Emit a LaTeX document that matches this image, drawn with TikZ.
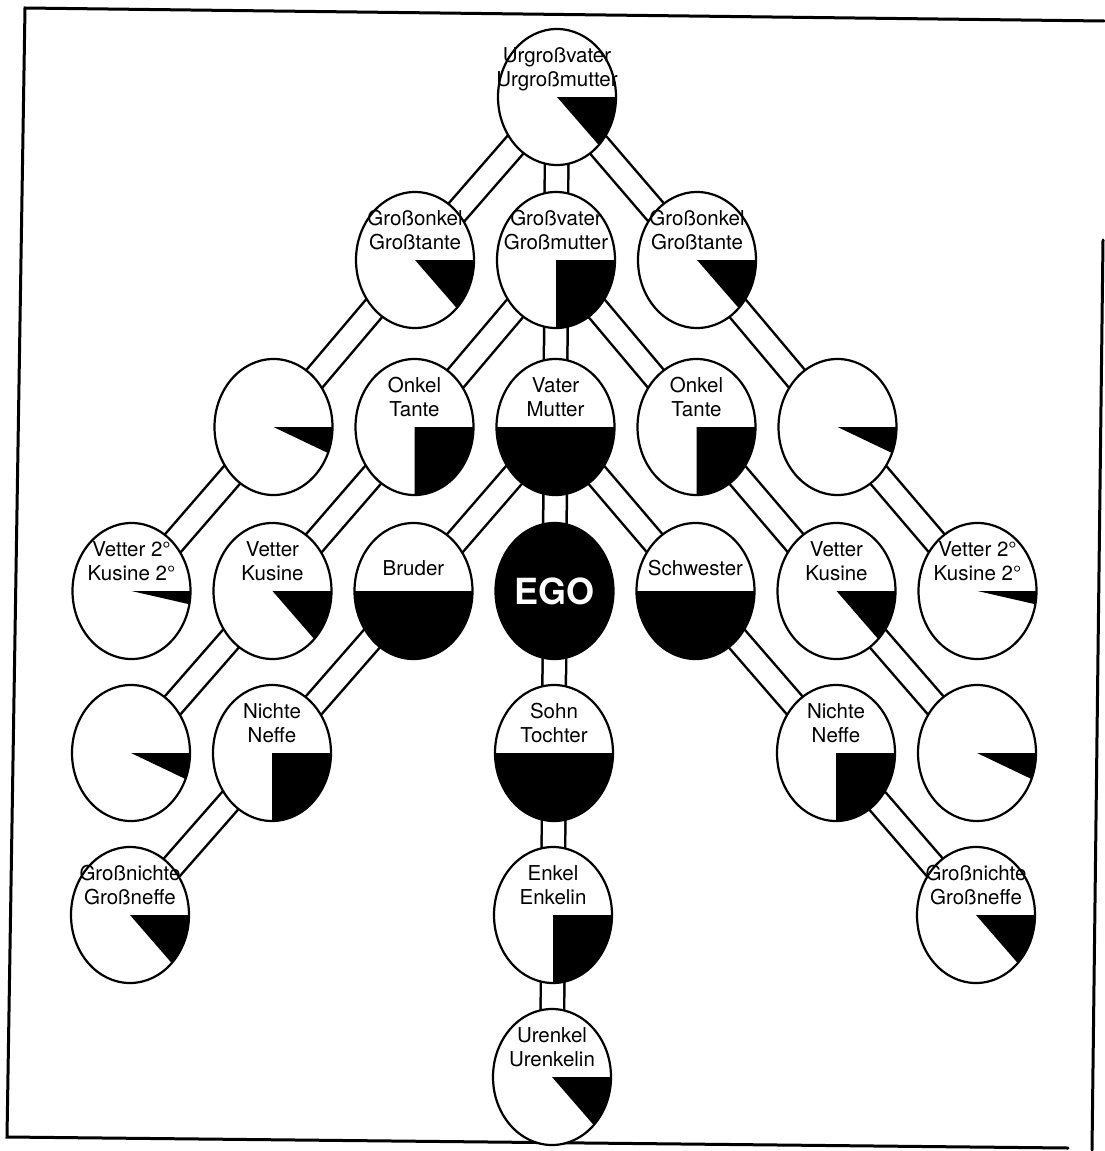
\documentclass[tikz,border=0pt]{standalone}
\usepackage{fontspec}
\setmainfont{TeX Gyre Heros}
\usetikzlibrary{shapes.geometric,backgrounds}
\newcommand\wedgefill[2]{\fill (#1.center) -- ++(59pt,0pt) arc[start angle=0,end angle=-#2,x radius=59pt,y radius=68pt] -- cycle;}
\begin{document}
\begin{tikzpicture}[x=1pt,y=1pt,
  person/.style={ellipse, draw=black, line width=2.2pt, fill=white, minimum width=118pt, minimum height=136pt, inner sep=0pt},
  lbl/.style={align=center, inner sep=0pt, font=\fontsize{20.5}{24}\selectfont},
  egolbl/.style={inner sep=0pt, text=white, font=\fontsize{36}{40}\selectfont\bfseries},
  conn/.style={draw=black, line width=2.5pt, double=white, double distance=21pt},
  frameline/.style={line width=3pt, line cap=round}]
\useasboundingbox (0,0) rectangle (1104,-1151);
% frame
\coordinate (f1) at (25,-8);
\coordinate (f2) at (1104,-21);
\coordinate (f3) at (7,-1137);
\coordinate (f4) at (1068,-1148);
\coordinate (f5) at (1103,-240);
\coordinate (f6) at (1092,-1150);
\draw[frameline] (f2) -- (f1) -- (f3) -- (f4);
\draw[frameline] (f5) -- (f6);
% persons
\node[person] (U) at (557,-97) {};
\node[person] (GOL) at (415,-260) {};
\node[person] (GV) at (556,-260) {};
\node[person] (GOR) at (697,-260) {};
\node[person] (B2L) at (273.5,-427) {};
\node[person] (OL) at (414.5,-427) {};
\node[person] (V) at (555.5,-427) {};
\node[person] (OR) at (696.5,-427) {};
\node[person] (B2R) at (837.5,-427) {};
\node[person] (V2L) at (131.5,-591) {};
\node[person] (VL) at (272.5,-591) {};
\node[person] (Br) at (413.5,-591) {};
\node[person, fill=black] (EGO) at (554.5,-591) {};
\node[person] (Sw) at (695.5,-591) {};
\node[person] (VR) at (836.5,-591) {};
\node[person] (V2R) at (977.5,-591) {};
\node[person] (B4L) at (131,-753) {};
\node[person] (NL) at (272,-753) {};
\node[person] (S) at (554,-753) {};
\node[person] (NR) at (836,-753) {};
\node[person] (B4R) at (977,-753) {};
\node[person] (GNL) at (130,-915) {};
\node[person] (E) at (553,-915) {};
\node[person] (GNR) at (976,-915) {};
\node[person] (UE) at (552,-1077) {};
% wedges
\wedgefill{U}{45}
\wedgefill{GOL}{45}
\wedgefill{GV}{90}
\wedgefill{GOR}{45}
\wedgefill{B2L}{22.5}
\wedgefill{OL}{90}
\wedgefill{V}{180}
\wedgefill{OR}{90}
\wedgefill{B2R}{22.5}
\wedgefill{V2L}{11.25}
\wedgefill{VL}{45}
\wedgefill{Br}{180}
\wedgefill{Sw}{180}
\wedgefill{VR}{45}
\wedgefill{V2R}{11.25}
\wedgefill{B4L}{22.5}
\wedgefill{NL}{90}
\wedgefill{S}{180}
\wedgefill{NR}{90}
\wedgefill{B4R}{22.5}
\wedgefill{GNL}{45}
\wedgefill{E}{90}
\wedgefill{GNR}{45}
\wedgefill{UE}{45}
% labels
\node[lbl] (tU) at (557,-70) {\strut Urgroßvater\\\strut Urgroßmutter};
\node[lbl] (tGOL) at (415,-233) {\strut Großonkel\\\strut Großtante};
\node[lbl] (tGV) at (556,-233) {\strut Großvater\\\strut Großmutter};
\node[lbl] (tGOR) at (697,-233) {\strut Großonkel\\\strut Großtante};
\node[lbl] (tOL) at (414.5,-400) {\strut Onkel\\\strut Tante};
\node[lbl] (tV) at (555.5,-400) {\strut Vater\\\strut Mutter};
\node[lbl] (tOR) at (696.5,-400) {\strut Onkel\\\strut Tante};
\node[lbl] (tV2L) at (131.5,-564) {\strut Vetter 2°\\\strut Kusine 2°};
\node[lbl] (tVL) at (272.5,-564) {\strut Vetter\\\strut Kusine};
\node[lbl] (tBr) at (413.5,-571) {\strut Bruder};
\node[egolbl] (tEGO) at (554.5,-591) {EGO};
\node[lbl] (tSw) at (695.5,-571) {\strut Schwester};
\node[lbl] (tVR) at (836.5,-564) {\strut Vetter\\\strut Kusine};
\node[lbl] (tV2R) at (977.5,-564) {\strut Vetter 2°\\\strut Kusine 2°};
\node[lbl] (tNL) at (272,-726) {\strut Nichte\\\strut Neffe};
\node[lbl] (tS) at (554,-726) {\strut Sohn\\\strut Tochter};
\node[lbl] (tNR) at (836,-726) {\strut Nichte\\\strut Neffe};
\node[lbl] (tGNL) at (130,-888) {\strut Großnichte\\\strut Großneffe};
\node[lbl] (tE) at (553,-888) {\strut Enkel\\\strut Enkelin};
\node[lbl] (tGNR) at (976,-888) {\strut Großnichte\\\strut Großneffe};
\node[lbl] (tUE) at (552,-1050) {\strut Urenkel\\\strut Urenkelin};
% connectors
\begin{pgfonlayer}{background}
\foreach \a/\b in {U/GOL, U/GV, U/GOR, GOL/B2L, GV/OL, GV/V, GV/OR, GOR/B2R,
  B2L/V2L, OL/VL, V/Br, V/EGO, V/Sw, OR/VR, B2R/V2R,
  VL/B4L, Br/NL, EGO/S, Sw/NR, VR/B4R, NL/GNL, S/E, NR/GNR, E/UE}
  \draw[conn] (\a.center) -- (\b.center);
\end{pgfonlayer}
\end{tikzpicture}
\end{document}
